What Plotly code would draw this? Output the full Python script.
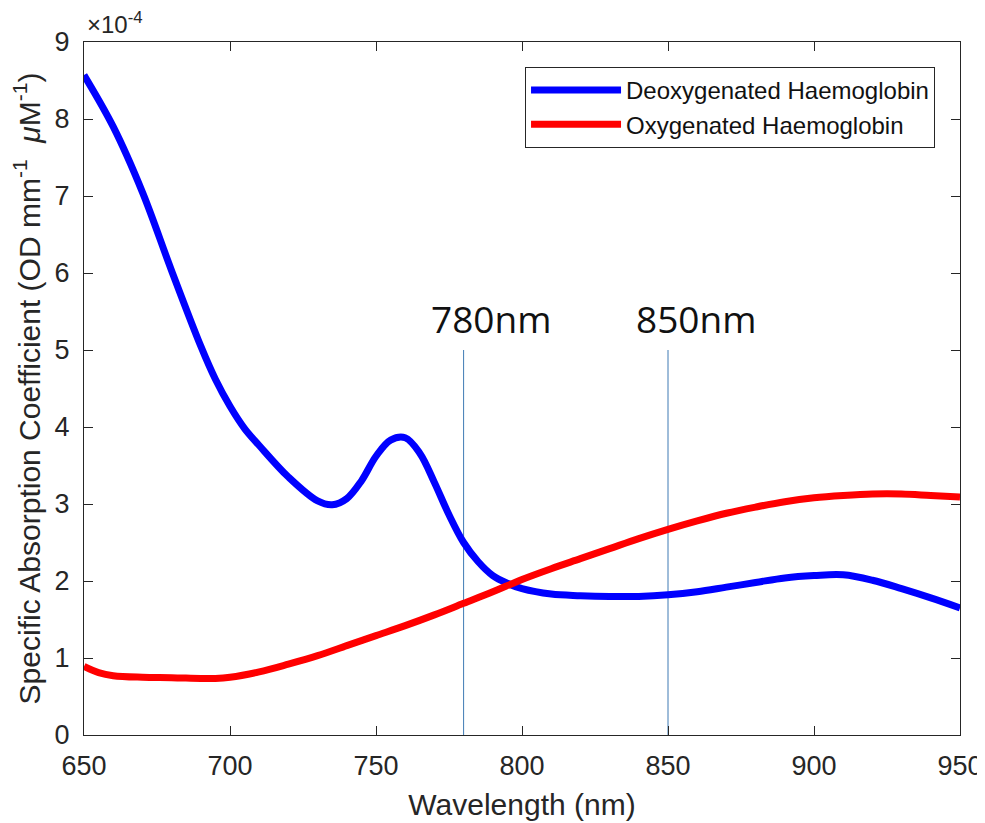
import plotly.graph_objects as go

# Wavelength samples (nm)
wl_deoxy = [650, 660, 670, 680, 690, 695, 700, 705, 710, 720, 730, 735, 740, 745, 750, 755, 760,
            765, 770, 775, 780, 785, 790, 795, 800, 810, 820, 830, 840, 850, 860, 870,
            880, 890, 900, 910, 920, 930, 940, 950]
# Deoxygenated haemoglobin (x 1e-4 OD mm^-1 uM^-1)
deoxy = [8.57, 7.90, 7.05, 6.03, 5.05, 4.62, 4.27, 3.98, 3.76, 3.35, 3.04, 2.99, 3.07, 3.30, 3.62, 3.83, 3.86,
         3.66, 3.28, 2.86, 2.50, 2.25, 2.07, 1.97, 1.90, 1.83, 1.81, 1.80, 1.80, 1.82, 1.86, 1.92,
         1.98, 2.04, 2.07, 2.08, 2.01, 1.90, 1.78, 1.65]

wl_oxy = [650, 655, 660, 670, 680, 690, 695, 700, 710, 720, 730, 740, 750, 760, 770, 780,
          790, 800, 810, 820, 830, 840, 850, 860, 870, 880, 890, 900, 910, 920, 930, 940, 950]
# Oxygenated haemoglobin (x 1e-4)
oxy = [0.89, 0.81, 0.77, 0.75, 0.745, 0.735, 0.735, 0.75, 0.82, 0.92, 1.03, 1.16, 1.29, 1.42, 1.56, 1.71,
       1.86, 2.02, 2.16, 2.29, 2.42, 2.55, 2.67, 2.78, 2.88, 2.96, 3.03, 3.08, 3.11, 3.13, 3.13, 3.11, 3.09]

marker_wl = [780, 850]
marker_labels = ["780nm", "850nm"]
marker_top = 5.0

x_ticks = [650, 700, 750, 800, 850, 900, 950]
y_ticks = [0, 1, 2, 3, 4, 5, 6, 7, 8, 9]

AX = "#262626"
FONT = "Liberation Sans, Arial, sans-serif"

fig = go.Figure()
for w in marker_wl:
    fig.add_trace(go.Scatter(x=[w, w], y=[0, marker_top], mode="lines",
                             line=dict(color="#3f7bb4", width=1), showlegend=False,
                             hoverinfo="skip"))
fig.add_trace(go.Scatter(x=wl_deoxy, y=deoxy, mode="lines", name="Deoxygenated Haemoglobin",
                         line=dict(color="#0000ff", width=7, shape="spline", smoothing=1.0)))
fig.add_trace(go.Scatter(x=wl_oxy, y=oxy, mode="lines", name="Oxygenated Haemoglobin",
                         line=dict(color="#ff0000", width=7, shape="spline", smoothing=1.0)))

for w, lab in zip(marker_wl, marker_labels):
    fig.add_annotation(x=w + 9.5, y=5.41, text=lab, showarrow=False, xanchor="center",
                       yanchor="middle", font=dict(family="Open Sans", size=37, color="#111"))

fig.add_annotation(x=0, y=1, xref="paper", yref="paper", xanchor="left", yanchor="bottom",
                   text="×10<sup>-4</sup>", showarrow=False, xshift=1, yshift=2,
                   font=dict(family=FONT, size=24, color=AX))

axis_common = dict(showline=True, linecolor=AX, linewidth=1, mirror="ticks", ticks="inside",
                   ticklen=9, tickcolor=AX, tickwidth=1, showgrid=False, zeroline=False,
                   automargin=False, tickfont=dict(family=FONT, size=27, color=AX))

# The page body adds an 8 px offset, so the figure is 8 px smaller than the window.
fig.update_layout(
    width=977, height=815,
    margin=dict(l=76, r=25, t=34, b=88),
    paper_bgcolor="white", plot_bgcolor="white",
    xaxis=dict(range=[650, 950], tickvals=x_ticks, ticklabelstandoff=7,
               title=dict(text="Wavelength (nm)", font=dict(family=FONT, size=30, color=AX), standoff=13),
               **axis_common),
    yaxis=dict(range=[0, 9], tickvals=y_ticks, ticklabelstandoff=8,
               title=dict(text="Specific Absorption Coefficient (OD mm<sup>-1</sup>  <i>μ</i>M<sup>-1</sup>)",
                          font=dict(family=FONT, size=30, color=AX), standoff=6),
               **axis_common),
    legend=dict(x=0.9715, y=0.964, xanchor="right", yanchor="top", bgcolor="white",
                bordercolor=AX, borderwidth=1, font=dict(family=FONT, size=24, color="#111"),
                itemwidth=90),
    showlegend=True,
)

fig.write_html("out.html")
